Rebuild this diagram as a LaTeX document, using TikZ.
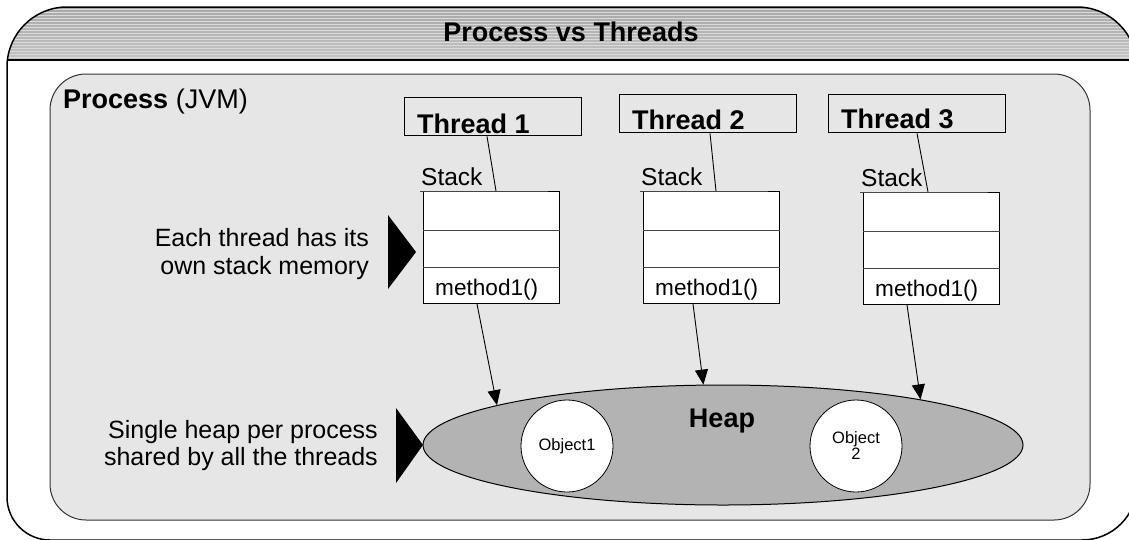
\documentclass[tikz,border=0pt]{standalone}
\usepackage{fontspec}
\setmainfont{Liberation Sans}
\usetikzlibrary{shapes.geometric,arrows.meta}
\definecolor{procfill}{HTML}{E6E6E6}
\definecolor{procline}{HTML}{333333}
\definecolor{heapfill}{HTML}{B3B3B3}
\definecolor{bandtop}{HTML}{A4A4A4}
\definecolor{bandbot}{HTML}{C4C4C4}
\definecolor{bandlight}{HTML}{DADADA}
\definecolor{rowline}{HTML}{444444}
\tikzset{
  threadbox/.style={draw=black, line width=1.3pt, minimum width=177pt, minimum height=38pt, inner sep=0pt, anchor=north west},
  threadtxt/.style={anchor=base west, inner sep=0pt, font=\fontsize{27}{31}\selectfont\bfseries},
  stackbox/.style={draw=black, line width=1pt, fill=white, minimum width=136pt, minimum height=112pt, inner sep=0pt, anchor=north west},
  stacktxt/.style={anchor=base west, inner sep=0pt, font=\fontsize{24.5}{28}\selectfont},
  methodtxt/.style={anchor=base west, inner sep=0pt, font=\fontsize{22.6}{26}\selectfont},
  sidetxt/.style={anchor=base east, inner sep=0pt, font=\fontsize{25}{28}\selectfont},
  objcircle/.style={circle, draw=black, line width=0.8pt, fill=white, minimum size=92pt, inner sep=0pt, align=center, font=\fontsize{16.5}{18}\selectfont},
  link/.style={draw=black, line width=0.9pt},
  arrowlink/.style={draw=black, line width=0.9pt, -{Triangle[length=15pt,width=13pt]}},
  pointer/.style={fill=black},
}
\begin{document}
\begin{tikzpicture}[x=1pt,y=-1pt]
\useasboundingbox (0,0) rectangle (1129,539);
\begin{scope}
\clip (0,0) rectangle (1129,539);
% title band
\begin{scope}
\clip (7,497) -- (7,67) .. controls (7,33.9) and (33.9,7) .. (67,7) -- (1077,7) .. controls (1110.1,7) and (1137,33.9) .. (1137,67) -- (1137,485) .. controls (1137,515.4) and (1112.4,540) .. (1082,540) -- (50,540) .. controls (26.3,540) and (7,520.7) .. (7,497) -- cycle;
\shade[top color=bandtop, bottom color=bandbot] (0,0) rectangle (1140,60);
\foreach \yy in {9,12,...,58} \draw[bandlight, line width=1pt] (0,\yy) -- (1140,\yy);
\end{scope}
\draw[black, line width=1.5pt] (7,60) -- (1140,60);
\draw[black, line width=1.5pt] (7,497) -- (7,67) .. controls (7,33.9) and (33.9,7) .. (67,7) -- (1077,7) .. controls (1110.1,7) and (1137,33.9) .. (1137,67) -- (1137,485) .. controls (1137,515.4) and (1112.4,540) .. (1082,540) -- (50,540) .. controls (26.3,540) and (7,520.7) .. (7,497) -- cycle;
\end{scope}
\node[anchor=base, inner sep=0pt, font=\fontsize{27}{31}\selectfont\bfseries] (title) at (571,41) {Process vs Threads};

% process box
\node[draw=procline, line width=1pt, fill=procfill, rounded corners=36pt, minimum width=1040pt, minimum height=446pt, inner sep=0pt] (proc) at (570,297) {};
\node[anchor=base west, inner sep=0pt, font=\fontsize{27}{31}\selectfont] (proclbl) at (63,108) {\textbf{Process} (JVM)};

% threads
\node[threadbox] (t1) at (404,97) {};
\node[threadbox] (t2) at (619,94) {};
\node[threadbox] (t3) at (828,94) {};
\node[threadtxt] (t1l) at (417,133) {Thread 1};
\node[threadtxt] (t2l) at (632,129) {Thread 2};
\node[threadtxt] (t3l) at (841,128) {Thread 3};

% stacks
\foreach \n/\x/\y in {1/423/191, 2/643/191, 3/863/192}{
  \node[stackbox] (st\n) at (\x,\y) {};
  \draw[rowline, line width=1pt] ([yshift=-39pt]st\n.north west) -- ([yshift=-39pt]st\n.north east);
  \draw[rowline, line width=1pt] ([yshift=-76pt]st\n.north west) -- ([yshift=-76pt]st\n.north east);
  \draw[rowline, line width=1pt] ([xshift=-3pt]st\n.north west) -- ([xshift=125pt]st\n.north west);
  \node[stacktxt] (sl\n) at (\x-2,\y-6) {Stack};
  \node[methodtxt] (m\n) at (\x+12,\y+104) {method1()};
}

% thread to stack links
\draw[link] ([xshift=83pt]t1.south west) -- ([xshift=73pt]st1.north west);
\draw[link] ([xshift=91pt]t2.south west) -- ([xshift=73pt]st2.north west);
\draw[link] ([xshift=89pt]t3.south west) -- ([xshift=65pt]st3.north west);

% heap
\node[ellipse, draw=black, line width=1pt, fill=heapfill, minimum width=600pt, minimum height=120pt, inner sep=0pt] (heap) at (723,445) {};
\node[anchor=base, inner sep=0pt, font=\fontsize{27}{31}\selectfont\bfseries] (heapl) at (722,427) {Heap};
\node[objcircle] (o1) at (567,446) {Object1};
\node[objcircle] (o2) at (856,446) {Object\\[-2pt]2};

% stack to heap arrows
\draw[arrowlink] ([xshift=54pt]st1.south west) -- (heap.170.66);
\draw[arrowlink] ([xshift=50pt]st2.south west) -- (heap.108.7);
\draw[arrowlink] ([xshift=44pt]st3.south west) -- (heap.13.0);

% side notes
\node[sidetxt] (n1a) at (369,246) {Each thread has its};
\node[sidetxt] (n1b) at (369,274) {own stack memory};
\node[sidetxt] (n2a) at (378,438) {Single heap per process};
\node[sidetxt] (n2b) at (378,465) {shared by all the threads};
\fill[pointer] (388,215) -- (416,252) -- (388,289) -- cycle;
\fill[pointer] (396,408) -- (423,445) -- (396,483) -- cycle;
\end{tikzpicture}
\end{document}
